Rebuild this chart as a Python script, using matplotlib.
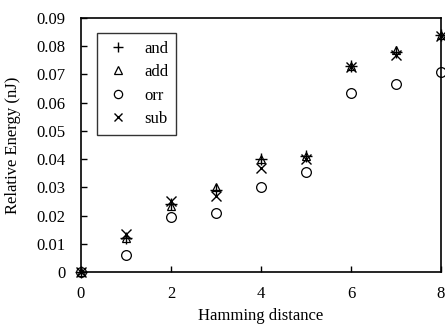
import matplotlib
matplotlib.use("Agg")
import matplotlib.pyplot as plt

plt.rcParams["font.family"] = ["Liberation Serif", "DejaVu Serif"]

hamming = [0, 1, 2, 3, 4, 5, 6, 7, 8]
e_and = [0.0, 0.012, 0.024, 0.029, 0.040, 0.041, 0.073, 0.078, 0.084]
e_add = [0.0, 0.012, 0.0235, 0.030, 0.040, 0.041, 0.073, 0.0785, 0.084]
e_orr = [0.0, 0.006, 0.0195, 0.021, 0.030, 0.0355, 0.0635, 0.0665, 0.071]
e_sub = [0.0, 0.0135, 0.025, 0.027, 0.037, 0.040, 0.0725, 0.077, 0.0835]

fig = plt.figure(figsize=(4.45, 3.33), dpi=100)
ax = fig.add_axes([0.182, 0.183, 0.809, 0.763])

style = dict(linestyle="none", color="black", clip_on=False, zorder=3)
ax.plot(hamming, e_and, marker="+", markersize=8, markeredgewidth=1.0, label="and", **style)
ax.plot(hamming, e_add, marker="^", markersize=6, markerfacecolor="none",
        markeredgewidth=0.9, label="add", **style)
ax.plot(hamming, e_orr, marker="o", markersize=7, markerfacecolor="none",
        markeredgewidth=0.9, label="orr", **style)
ax.plot(hamming, e_sub, marker="x", markersize=7, markeredgewidth=1.0, label="sub", **style)

ax.set_xlim(0, 8)
ax.set_ylim(0, 0.09)
ax.set_xticks([0, 2, 4, 6, 8])
ax.set_yticks([0, 0.01, 0.02, 0.03, 0.04, 0.05, 0.06, 0.07, 0.08, 0.09])
ax.set_yticklabels(["0", "0.01", "0.02", "0.03", "0.04", "0.05", "0.06", "0.07", "0.08", "0.09"])
ax.tick_params(direction="in", length=4, width=1, labelsize=12)
ax.tick_params(axis="x", pad=10)
ax.tick_params(axis="y", pad=11)
for sp in ax.spines.values():
    sp.set_linewidth(1.2)

ax.set_xlabel("Hamming distance", fontsize=12, labelpad=4)
ax.set_ylabel("Relative Energy (nJ)", fontsize=12, labelpad=11)

leg = ax.legend(loc="upper left", bbox_to_anchor=(0.045, 0.94), fontsize=12,
                frameon=True, fancybox=False, borderpad=0.45, labelspacing=0.45,
                handletextpad=0.8, handlelength=1.6, borderaxespad=0,
                markerscale=0.85)
leg.get_frame().set_edgecolor("black")
leg.get_frame().set_linewidth(1.0)

fig.savefig("out.png", dpi=100)
